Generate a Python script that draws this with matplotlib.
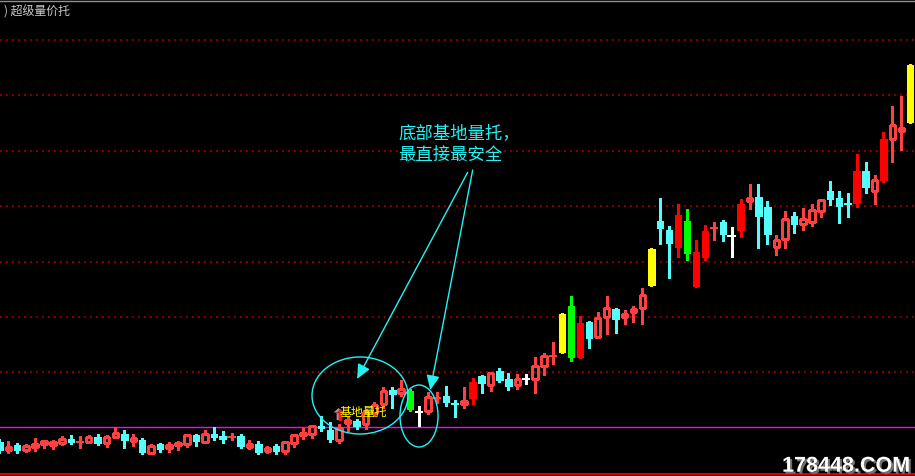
import matplotlib
matplotlib.use('Agg')
import matplotlib.pyplot as plt
from matplotlib.patches import Rectangle, Ellipse
from matplotlib.path import Path
from matplotlib.lines import Line2D
import matplotlib.transforms as mtrans
import matplotlib.patheffects as pe

plt.rcParams['font.family'] = ['Noto Sans CJK SC', 'DejaVu Sans']

# ---------------- data (daily OHLC) ----------------
opens = [3.8, 3.0, 3.5, 3.0, 3.3, 3.6, 3.5, 3.7, 4.1, 3.8,
         3.8, 4.3, 3.7, 4.3, 4.6, 3.9, 4.0, 2.7, 3.6, 3.2,
         3.5, 3.6, 4.5, 3.8, 4.6, 4.4, 4.3, 4.4, 3.3, 3.6,
         2.9, 3.4, 2.9, 3.7, 4.5, 4.6, 5.4, 5.0, 4.0, 5.7,
         5.9, 5.6, 6.7, 7.6, 9.0, 8.7, 8.9, 6.8, 6.9, 8.2,
         8.4, 7.6, 7.6, 8.2, 10.4, 9.5, 10.9, 10.1, 9.5, 10.1,
         10.1, 11.4, 12.4, 12.8, 17.4, 12.3, 15.8, 14.3, 16.3, 17.1,
         16.3, 16.8, 17.2, 19.5, 25.9, 25.0, 23.3, 25.9, 19.4, 22.3,
         25.2, 25.8, 24.4, 25.0, 27.9, 28.3, 27.3, 23.3, 24.1, 26.4,
         25.6, 25.8, 26.9, 28.9, 28.2, 27.6, 27.7, 30.9, 28.9, 30.0,
         34.1, 34.9, 35.8]
closes = [3.0, 3.3, 3.0, 3.4, 3.6, 3.9, 3.8, 4.1, 3.8, 3.81,
          4.3, 3.7, 4.3, 4.7, 4.0, 4.2, 2.8, 3.4, 3.1, 3.5,
          3.7, 4.5, 3.9, 4.6, 4.3, 4.1, 4.31, 3.4, 3.6, 2.8,
          3.2, 2.9, 3.8, 4.5, 4.7, 5.4, 5.2, 4.1, 5.2, 6.0,
          5.4, 6.8, 7.5, 8.9, 8.6, 9.1, 7.1, 6.8, 8.3, 8.21,
          7.8, 7.59, 7.9, 9.8, 9.7, 10.7, 10.0, 9.4, 10.1, 10.1,
          11.4, 12.4, 12.41, 16.6, 12.3, 15.7, 14.2, 16.2, 17.2, 16.1,
          16.6, 17.1, 18.5, 23.1, 25.2, 23.7, 26.5, 22.7, 22.8, 24.9,
          25.21, 24.6, 24.4, 27.6, 28.2, 26.4, 24.6, 24.0, 26.1, 25.6,
          26.1, 27.0, 28.0, 28.1, 27.4, 27.59, 30.9, 29.3, 30.0, 34.1,
          35.5, 35.2, 41.5]
highs = [4.0, 3.8, 3.6, 3.5, 4.1, 3.9, 3.9, 4.3, 4.4, 4.3,
         4.4, 4.5, 4.4, 5.2, 4.9, 4.5, 4.1, 3.5, 3.6, 3.7,
         3.8, 4.5, 4.5, 4.9, 5.2, 4.8, 4.6, 4.5, 3.9, 3.8,
         3.3, 3.5, 3.8, 4.5, 5.1, 5.4, 6.3, 5.7, 5.5, 6.3,
         6.0, 7.0, 7.7, 9.2, 9.2, 9.9, 9.0, 7.3, 8.7, 8.7,
         9.3, 7.9, 9.2, 10.1, 10.4, 10.7, 11.1, 10.6, 10.5, 10.5,
         12.2, 12.6, 13.7, 16.6, 18.3, 16.3, 15.8, 16.7, 18.3, 17.1,
         16.9, 17.3, 19.1, 23.1, 28.1, 25.3, 27.5, 27.0, 23.9, 25.4,
         25.7, 25.9, 25.2, 28.0, 29.5, 29.5, 27.8, 24.4, 26.8, 26.7,
         27.1, 27.5, 28.0, 29.8, 28.8, 28.6, 32.5, 31.7, 30.4, 34.7,
         37.3, 38.3, 41.5]
lows = [2.8, 2.8, 2.8, 2.9, 3.0, 3.3, 3.2, 3.6, 3.7, 3.3,
        3.8, 3.6, 3.4, 4.3, 3.3, 3.5, 2.7, 2.7, 2.9, 2.9,
        3.1, 3.4, 3.5, 3.8, 4.1, 3.8, 4.1, 3.3, 3.2, 2.7,
        2.8, 2.7, 2.7, 3.4, 4.2, 4.3, 5.0, 3.9, 3.8, 5.0,
        5.2, 5.2, 6.5, 7.3, 7.3, 8.5, 7.0, 5.5, 6.7, 7.8,
        7.5, 6.4, 7.3, 7.7, 8.8, 9.0, 9.9, 9.1, 9.2, 9.7,
        8.8, 10.6, 11.7, 12.8, 12.0, 12.3, 13.3, 14.3, 14.7, 14.8,
        15.7, 15.9, 15.7, 19.5, 23.7, 20.3, 22.4, 22.1, 19.4, 22.1,
        24.1, 24.0, 22.4, 24.4, 27.2, 23.3, 23.7, 22.6, 23.3, 24.8,
        25.1, 25.5, 26.4, 27.6, 25.8, 26.4, 27.4, 28.8, 27.7, 29.9,
        31.9, 33.1, 35.8]

# indicator signals (day indices)
strong_up_days = [53, 65, 76, 78, 79, 83, 96, 99]   # solid red bars
volume_base_days = [63, 73, 102]                     # yellow bars
green_days = [46, 64, 77]                            # green bars

grid_levels = [10.77, 16.3, 21.85, 27.37, 32.9, 38.47, 44.0]
base_level = 5.27
bottom_level = 0.6

title = ') 超级量价托'
note_line1 = '底部基地量托，'
note_line2 = '最直接最安全'
signal_label = '基地量托'
watermark = '178448.COM'

# ---------------- figure ----------------
fig = plt.figure(figsize=(9.15, 4.76), dpi=100, facecolor='black')
ax = fig.add_axes([0, 0, 1, 1])
ax.set_facecolor('black')
ax.axis('off')
ax.set_xlim(0.067, 102.53)
ax.set_ylim(0.4, 48.0)

PX = 0.72  # one pixel in points

for lv in grid_levels:
    ax.axhline(lv, color='#b00000', lw=1.2, linestyle=(0, (1, 2.6)), zorder=1)
ax.axhline(base_level, color='#ff00ff', lw=1.0, zorder=1)
ax.axhline(bottom_level, color='#d00000', lw=1.5, zorder=1)

RED = '#ff4040'
CYAN = '#54fcfc'
W = 0.72

for i, (o, h, l, c) in enumerate(zip(opens, highs, lows, closes)):
    lo, hi = min(o, c), max(o, c)
    fill = True
    if i in volume_base_days:
        col = '#ffff00'
    elif i in green_days:
        col = '#00ff00'
    elif i in strong_up_days:
        col = '#ff0000'
    elif c > o:
        col = RED
        fill = False
    elif c < o:
        col = CYAN
    else:
        col = '#ffffff'
    if hi - lo < 0.15:
        ax.plot([i, i], [l, h], color=col, lw=PX * 1.2, antialiased=False, zorder=2)
        ax.plot([i - W / 2, i + W / 2], [(o + c) / 2] * 2, color=col,
                lw=PX * 1.5, antialiased=False, zorder=2)
        continue
    if fill:
        ax.plot([i, i], [l, h], color=col, lw=PX * 1.2, antialiased=False, zorder=2)
        ax.add_patch(Rectangle((i - W / 2, lo), W, hi - lo, facecolor=col,
                               edgecolor=col, lw=0.5, antialiased=False, zorder=3))
    else:
        ax.plot([i, i], [l, lo], color=col, lw=PX * 1.2, antialiased=False, zorder=2)
        ax.plot([i, i], [hi, h], color=col, lw=PX * 1.2, antialiased=False, zorder=2)
        ax.add_patch(Rectangle((i - W / 2 + 0.05, lo), W - 0.1, hi - lo, fill=False,
                               edgecolor=col, lw=PX * 1.3, antialiased=False, zorder=3))

# ---------------- annotations ----------------
ANN = '#22f4f4'
ax.add_patch(Ellipse((40.38, 8.45), 10.75, 7.7, fill=False, edgecolor=ANN, lw=1.0, zorder=5))
ax.add_patch(Ellipse((46.99, 6.4), 4.26, 6.2, fill=False, edgecolor=ANN, lw=1.0, zorder=5))

arrow_kw = dict(arrowstyle='-|>,head_length=0.8,head_width=0.36', color=ANN,
                lw=1.0, shrinkA=0, shrinkB=0, mutation_scale=11)
ax.annotate('', xy=(40.05, 10.1), xytext=(52.44, 30.77), arrowprops=arrow_kw, zorder=6)
ax.annotate('', xy=(48.25, 9.0), xytext=(53.0, 31.0), arrowprops=arrow_kw, zorder=6)

ax.text(44.7, 35.55, note_line1, color=ANN, fontsize=12.5, ha='left', va='top', zorder=7)
ax.text(44.7, 33.45, note_line2, color=ANN, fontsize=12.5, ha='left', va='top', zorder=7)

# red up-arrow icon with grey shadow
arrow_path = Path([(0, 1), (-0.65, 0.4), (-0.25, 0.4), (-0.25, -0.6), (0.25, -0.6),
                   (0.25, 0.4), (0.65, 0.4), (0, 1)], closed=True)
shadow_tr = mtrans.offset_copy(ax.transData, fig=fig, x=-2, y=1, units='dots')
ax.plot(38.1, 6.45, marker=arrow_path, ms=10.8, color='#9a9a9a', mew=0,
        transform=shadow_tr, zorder=7)
ax.plot(38.1, 6.45, marker=arrow_path, ms=10.8, color='#ff1010', mew=0, zorder=8)
ax.text(38.1, 6.75, signal_label, color='#ffff00', fontsize=8.6, ha='left', va='center', zorder=9)

# ---------------- chrome ----------------
fig.add_artist(Line2D([0, 1], [1 - 0.6 / 476] * 2, color='#909090', lw=1.0))
fig.text(0.004, 1 - 12 / 476, title, color='#c8c8c8', fontsize=8.6, ha='left', va='center')
fig.text(0.9945, 0.009, watermark, color='white', fontsize=15.5, fontweight='bold',
         family='Liberation Sans', ha='right', va='baseline',
         path_effects=[pe.SimplePatchShadow(offset=(1.5, -1.5), shadow_rgbFace='#707070', alpha=1.0),
                       pe.Normal()])

fig.savefig('out.png', dpi=100, facecolor='black')
